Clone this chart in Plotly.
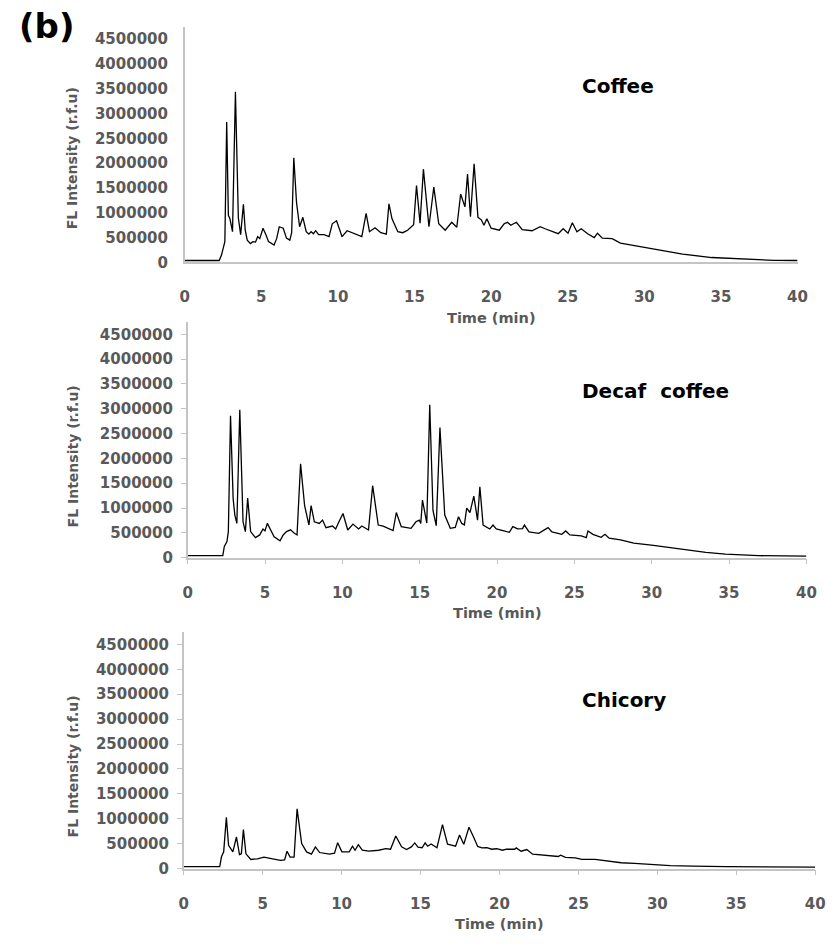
import plotly.graph_objects as go

# ---- chromatogram data: retention time (min) and fluorescence intensity (r.f.u) ----
coffee_t = [0, 2.25, 2.4, 2.55, 2.62, 2.74, 2.85, 2.95, 3.05, 3.12, 3.31, 3.5, 3.65, 3.83, 3.95,
            4.08, 4.29, 4.45, 4.62, 4.76, 4.9, 5.11, 5.3, 5.47, 5.83, 6.0, 6.17, 6.3, 6.43, 6.64,
            6.86, 6.98, 7.12, 7.3, 7.5, 7.71, 7.93, 8.1, 8.25, 8.4, 8.55, 8.74, 9.1, 9.42, 9.63,
            9.91, 10.27, 10.6, 11.1, 11.56, 11.84, 12.06, 12.42, 12.8, 13.16, 13.33, 13.53, 13.91,
            14.23, 14.55, 14.94, 15.13, 15.36, 15.58, 15.94, 16.26, 16.58, 17.0, 17.43, 17.76,
            18.01, 18.29, 18.46, 18.65, 18.89, 19.14, 19.36, 19.53, 19.72, 20.0, 20.53, 20.85,
            21.07, 21.28, 21.65, 22.03, 22.67, 23.2, 23.52, 24.38, 24.7, 25.02, 25.3, 25.6, 25.88,
            26.3, 26.73, 26.94, 27.26, 27.9, 28.44, 29.72, 31.0, 32.5, 34.4, 36.34, 38.47, 40.0]
coffee_y = [40000, 40000, 150000, 300000, 420000, 2830000, 950000, 880000, 700000, 620000,
            3440000, 900000, 560000, 1170000, 650000, 450000, 380000, 420000, 410000, 520000,
            480000, 690000, 560000, 420000, 350000, 480000, 720000, 700000, 690000, 490000,
            450000, 600000, 2110000, 1200000, 720000, 910000, 620000, 570000, 620000, 580000,
            640000, 560000, 560000, 520000, 780000, 840000, 520000, 640000, 570000, 520000,
            990000, 620000, 700000, 600000, 570000, 1180000, 880000, 620000, 600000, 650000,
            760000, 1550000, 790000, 1880000, 720000, 1520000, 780000, 650000, 810000, 710000,
            1380000, 1120000, 1780000, 920000, 1990000, 910000, 860000, 750000, 880000, 690000,
            650000, 780000, 810000, 750000, 810000, 660000, 640000, 720000, 680000, 580000,
            680000, 590000, 800000, 620000, 680000, 580000, 500000, 590000, 490000, 480000,
            390000, 320000, 240000, 170000, 100000, 65000, 42000, 40000]

decaf_t = [0, 2.27, 2.37, 2.54, 2.63, 2.77, 2.94, 3.05, 3.18, 3.37, 3.58, 3.73, 3.88, 4.07, 4.38,
           4.66, 4.87, 5.0, 5.15, 5.34, 5.59, 5.97, 6.18, 6.39, 6.65, 6.86, 7.07, 7.3, 7.56, 7.84,
           7.98, 8.19, 8.51, 8.72, 8.94, 9.36, 9.57, 9.78, 10.04, 10.35, 10.69, 11.05, 11.26,
           11.69, 11.96, 12.32, 12.64, 13.28, 13.49, 13.81, 14.23, 14.44, 14.76, 14.97, 15.07,
           15.18, 15.46, 15.65, 15.86, 16.07, 16.31, 16.62, 16.98, 17.3, 17.51, 17.72, 17.89,
           18.04, 18.25, 18.5, 18.74, 18.89, 19.1, 19.32, 19.53, 19.74, 19.95, 20.38, 20.8,
           21.02, 21.33, 21.65, 21.77, 22.07, 22.7, 23.3, 23.55, 24.19, 24.44, 24.71, 25.45,
           25.77, 25.88, 26.2, 26.73, 26.98, 27.25, 27.99, 28.84, 30.11, 31.59, 33.5, 34.77,
           36.89, 40.0]
decaf_y = [40000, 40000, 226000, 325000, 525000, 2860000, 1190000, 857000, 690000, 2980000,
           723000, 525000, 1200000, 525000, 405000, 458000, 578000, 540000, 690000, 580000,
           418000, 339000, 458000, 525000, 560000, 500000, 458000, 1890000, 1050000, 657000,
           1050000, 723000, 690000, 757000, 604000, 637000, 578000, 723000, 890000, 558000,
           677000, 578000, 637000, 558000, 1450000, 657000, 637000, 545000, 910000, 624000,
           600000, 590000, 723000, 757000, 690000, 1160000, 697000, 3080000, 950000, 644000,
           2620000, 857000, 591000, 610000, 823000, 690000, 660000, 1000000, 910000, 1240000,
           757000, 1430000, 657000, 624000, 578000, 657000, 580000, 545000, 511000, 624000,
           580000, 585000, 657000, 518000, 491000, 604000, 518000, 471000, 538000, 458000,
           438000, 405000, 538000, 470000, 411000, 471000, 391000, 358000, 292000, 246000,
           179000, 106000, 73000, 40000, 30000]

chicory_t = [0, 2.28, 2.39, 2.53, 2.7, 2.84, 3.11, 3.34, 3.53, 3.65, 3.78, 3.94, 4.25, 4.67, 5.08,
             5.5, 6.12, 6.39, 6.54, 6.74, 6.99, 7.18, 7.47, 7.78, 8.09, 8.34, 8.61, 9.23, 9.55,
             9.75, 10.02, 10.48, 10.69, 10.85, 11.06, 11.31, 11.72, 12.35, 12.8, 13.1, 13.43,
             13.8, 14.11, 14.42, 14.63, 14.84, 15.1, 15.29, 15.45, 15.67, 16.04, 16.39, 16.71,
             17.22, 17.47, 17.74, 18.07, 18.35, 18.62, 18.89, 19.2, 19.51, 19.82, 20.2, 20.44,
             20.96, 21.06, 21.37, 21.73, 22.1, 22.93, 23.72, 23.87, 24.18, 24.8, 25.21, 26.05,
             26.88, 27.71, 28.54, 29.78, 30.82, 32.27, 34.35, 40.0]
chicory_y = [40000, 40000, 238000, 337000, 1030000, 470000, 337000, 635000, 284000, 300000,
             784000, 298000, 185000, 198000, 231000, 198000, 165000, 175000, 350000, 231000,
             231000, 1200000, 503000, 337000, 291000, 437000, 324000, 291000, 310000, 522000,
             337000, 337000, 450000, 370000, 483000, 370000, 351000, 370000, 403000, 390000,
             655000, 437000, 384000, 437000, 516000, 430000, 420000, 516000, 450000, 496000,
             420000, 883000, 490000, 450000, 675000, 490000, 833000, 640000, 446000, 417000,
             423000, 390000, 400000, 370000, 390000, 390000, 417000, 351000, 384000, 291000,
             271000, 245000, 271000, 225000, 218000, 185000, 185000, 152000, 119000, 106000,
             73000, 60000, 53000, 40000, 33000]

sample_names = ["Coffee", "Decaf\u00a0 coffee", "Chicory"]

x_tick_vals = [0, 5, 10, 15, 20, 25, 30, 35, 40]
y_tick_vals = [0, 500000, 1000000, 1500000, 2000000, 2500000, 3000000, 3500000, 4000000, 4500000]
y_tick_text = ["0", "500000", "1000000", "1500000", "2000000", "2500000",
               "3000000", "3500000", "4000000", "4500000"]

x_title = "Time (min)"
y_title = "FL Intensity (r.f.u)"
panel_tag = "(b)"

# ---- page geometry (pixels) ----
W, H = 837, 948
FONT = "DejaVu Sans"
TICK_COLOR = "#595959"
AXIS_COLOR = "#C4C4C4"


def px_x(v):
    return v / W


def px_y(v):
    return 1 - v / H


# plot-area boxes: (left, right, top, bottom) in pixels
panels = [
    dict(box=(183, 807, 27, 265), ticks=""),
    dict(box=(186, 816, 325, 563), ticks="outside"),
    dict(box=(182, 825, 638, 877), ticks="outside"),
]
series = [(coffee_t, coffee_y), (decaf_t, decaf_y), (chicory_t, chicory_y)]

fig = go.Figure()
layout = dict(
    width=W, height=H,
    margin=dict(l=0, r=0, t=0, b=0),
    paper_bgcolor="white", plot_bgcolor="white",
    showlegend=False,
    font=dict(family=FONT),
)

tick_font = dict(family=FONT, size=15, color=TICK_COLOR, weight="bold")

annotations = []
for i, (p, (t, y)) in enumerate(zip(panels, series)):
    n = "" if i == 0 else str(i + 1)
    left, right, top, bottom = p["box"]
    has_ticks = bool(p["ticks"])
    fig.add_trace(go.Scatter(
        x=t, y=y, mode="lines",
        line=dict(color="black", width=1.3),
        xaxis="x" + n, yaxis="y" + n, hoverinfo="skip",
    ))
    layout["xaxis" + n] = dict(
        domain=[px_x(left), px_x(right)], anchor="y" + n,
        range=[0, 40], tickvals=x_tick_vals,
        showgrid=False, zeroline=False,
        showline=True, linecolor=AXIS_COLOR, linewidth=1.5,
        ticks=p["ticks"], ticklen=5, tickcolor=AXIS_COLOR, tickwidth=1,
        tickfont=tick_font, ticklabelstandoff=16 if has_ticks else 20,
    )
    layout["yaxis" + n] = dict(
        domain=[px_y(bottom), px_y(top)], anchor="x" + n,
        range=[0, 4750000], tickvals=y_tick_vals, ticktext=y_tick_text,
        showgrid=False, zeroline=False,
        showline=True, linecolor=AXIS_COLOR, linewidth=1.5,
        ticks=p["ticks"], ticklen=5, tickcolor=AXIS_COLOR, tickwidth=1,
        tickfont=tick_font, ticklabelstandoff=5 if has_ticks else 12,
    )
    # sample name
    annotations.append(dict(
        text=sample_names[i], xref="paper", yref="paper",
        x=px_x(585), y=px_y([87, 395, 707][i]), xanchor="left", yanchor="middle",
        showarrow=False, font=dict(family=FONT, size=20, color="black", weight="bold"),
    ))
    # y-axis title
    annotations.append(dict(
        text=y_title, xref="paper", yref="paper", textangle=-90,
        x=px_x(69), y=px_y([160, 461, 774][i]), xanchor="center", yanchor="middle",
        showarrow=False, font=dict(family=FONT, size=14, color=TICK_COLOR, weight="bold"),
    ))
    # x-axis title
    annotations.append(dict(
        text=x_title, xref="paper", yref="paper",
        x=px_x((left + right) / 2), y=px_y(bottom + 56), xanchor="center", yanchor="middle",
        showarrow=False, font=dict(family=FONT, size=14.5, color=TICK_COLOR, weight="bold"),
    ))

annotations.append(dict(
    text=panel_tag, xref="paper", yref="paper",
    x=px_x(42), y=px_y(26), xanchor="center", yanchor="middle",
    showarrow=False, font=dict(family=FONT, size=34, color="black", weight="bold"),
))

layout["annotations"] = annotations
fig.update_layout(**layout)
fig.write_html("out.html")
